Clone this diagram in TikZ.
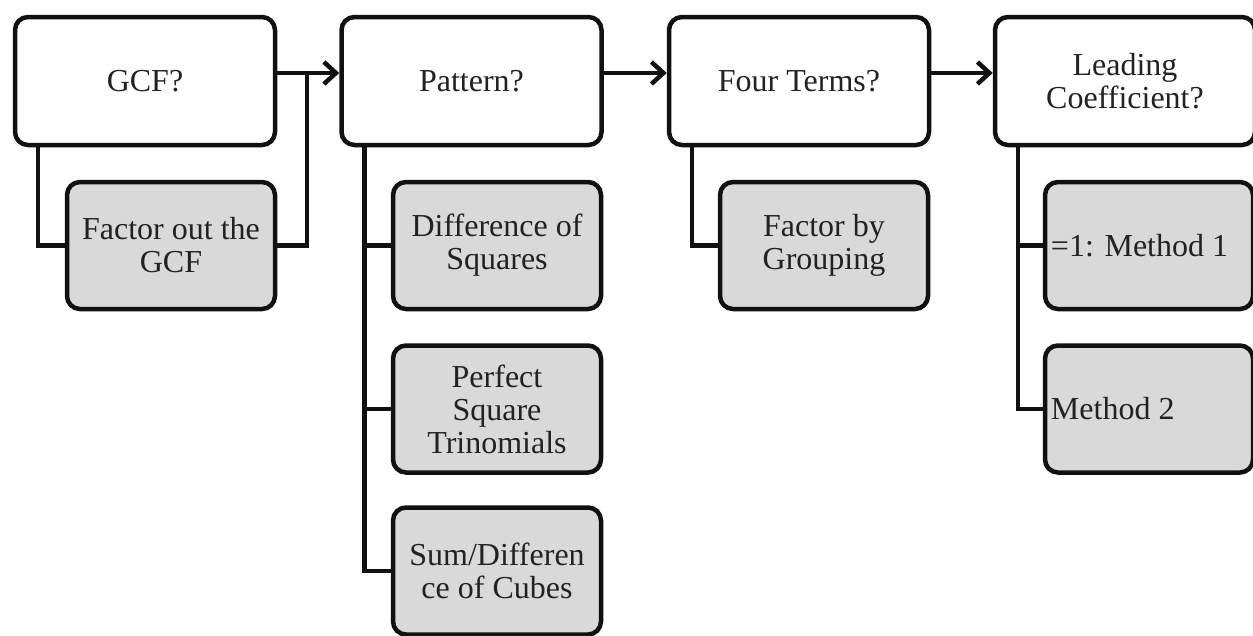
\documentclass[tikz,border=0pt]{standalone}
\usepackage{fontspec}
\setmainfont{Liberation Serif}
\usetikzlibrary{arrows.meta}
\definecolor{boxfill}{HTML}{D9D9D9}
\definecolor{ink}{HTML}{111111}
\definecolor{txt}{HTML}{222222}
\tikzset{
  lbl/.style={text=txt, font=\fontsize{32}{33}\selectfont},
  topbox/.style={lbl, draw=ink, line width=4.5pt, rounded corners=13pt, fill=white,
    minimum width=260pt, minimum height=128pt, align=center},
  subbox/.style={lbl, draw=ink, line width=4.5pt, rounded corners=13pt, fill=boxfill,
    minimum width=208pt, minimum height=127pt, align=center},
  conn/.style={draw=ink, line width=4.5pt},
  arr/.style={conn, -{Straight Barb[length=12pt,width=22pt,line width=4.5pt]}}
}
\begin{document}
\begin{tikzpicture}[x=1pt,y=-1pt]
\useasboundingbox (0,0) rectangle (1253,635);
% top row
\node[topbox] (gcf) at (145,81) {GCF?};
\node[topbox] (pat) at (471.5,81) {Pattern?};
\node[topbox] (four) at (799,81) {Four Terms?};
\node[topbox] (lead) at (1125,81) {Leading\\Coefficient?};
% sub boxes
\node[subbox] (fgcf) at (171,245.5) {Factor out the\\GCF};
\node[subbox] (dsq) at (497,245.5) {Difference of\\Squares};
\node[subbox] (pst) at (497,409) {Perfect\\Square\\Trinomials};
\node[subbox] (sdc) at (497,571) {Sum/Differen\\ce of Cubes};
\node[subbox] (grp) at (824,245.5) {Factor by\\Grouping};
\node[subbox] (m1) at (1149,245.5) {};
\node[subbox] (m2) at (1149,409) {};
\node[lbl, anchor=west, inner sep=0pt] (m1t) at ([xshift=8pt]m1.west) {=1: Method 1};
\node[lbl, anchor=west, inner sep=0pt] (m2t) at ([xshift=8pt]m2.west) {Method 2};
% connectors
\coordinate (j) at (307,73);
\draw[conn] ([xshift=25pt]gcf.south west) |- (fgcf.west);
\draw[conn] (fgcf.east) -| (j);
\draw[arr] ([yshift=8pt]gcf.east) -- ([yshift=8pt]pat.west);
\draw[arr] ([yshift=8pt]pat.east) -- ([yshift=8pt]four.west);
\draw[arr] ([yshift=8pt]four.east) -- ([yshift=8pt]lead.west);
\draw[conn] ([xshift=25pt]pat.south west) |- (sdc.west);
\draw[conn] ([xshift=25pt]pat.south west |- dsq.west) -- (dsq.west);
\draw[conn] ([xshift=25pt]pat.south west |- pst.west) -- (pst.west);
\draw[conn] ([xshift=25pt]four.south west) |- (grp.west);
\draw[conn] ([xshift=25pt]lead.south west) |- (m2.west);
\draw[conn] ([xshift=25pt]lead.south west |- m1.west) -- (m1.west);
\end{tikzpicture}
\end{document}
